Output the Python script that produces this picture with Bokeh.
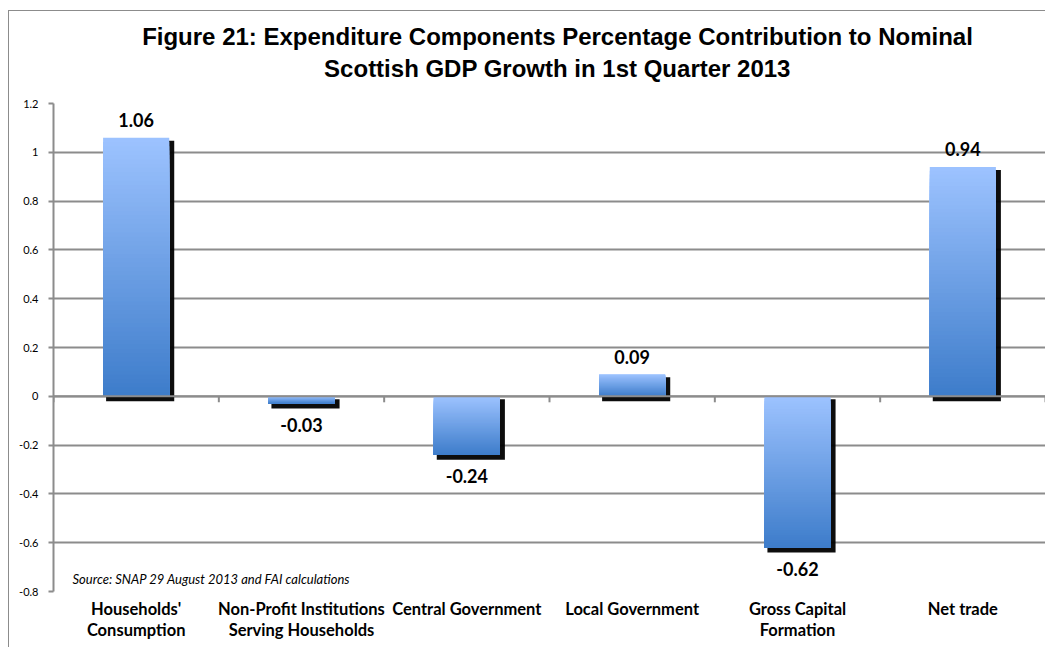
import numpy as np
from bokeh.plotting import figure
from bokeh.models import (Range1d, FixedTicker, CustomJSTickFormatter, Span, Label,
                          LinearAxis, ColumnDataSource)
from bokeh.core.properties import value
from bokeh.embed import file_html
from bokeh.resources import INLINE

# ---------------- data ----------------
categories = ["Households'\nConsumption",
              "Non-Profit Institutions\nServing Households",
              "Central Government",
              "Local Government",
              "Gross Capital\nFormation",
              "Net trade"]
values = [1.06, -0.03, -0.24, 0.09, -0.62, 0.94]
value_labels = ["1.06", "-0.03", "-0.24", "0.09", "-0.62", "0.94"]
y_ticks = [-0.8, -0.6, -0.4, -0.2, 0, 0.2, 0.4, 0.6, 0.8, 1, 1.2]
title_line1 = "Figure 21: Expenditure Components Percentage Contribution to Nominal"
title_line2 = "Scottish GDP Growth in 1st Quarter 2013"
source_note = "Source: SNAP 29 August 2013  and FAI calculations"

# ---------------- geometry / style ----------------
W, H = 1037, 637
FL, FR, FT, FB = 44, 1, 92, 57
frame_w = W - FL - FR
frame_h = H - FT - FB
n = len(categories)
ppx = frame_w / n
ppy = frame_h / (y_ticks[-1] - y_ticks[0])
BAR_W = 0.4
GRID = "#8c8c8c"
LIGHT = np.array([157, 195, 255])
DARK = np.array([61, 124, 202])

p = figure(width=W, height=H, output_backend="svg", toolbar_location=None,
           x_range=Range1d(-0.5, n - 0.5), y_range=Range1d(y_ticks[0], y_ticks[-1]),
           min_border_left=FL, min_border_right=FR, min_border_top=FT, min_border_bottom=FB)
p.margin = (10, 0, 0, 8)
p.styles = {"border-left": "1px solid #8c8c8c", "border-top": "1px solid #8c8c8c"}
p.outline_line_color = None
p.background_fill_color = "white"
p.border_fill_color = "white"

# two-line title, set as the single label of an axis above the frame
title_x = round(-0.5 + 504 / ppx, 4)
title_axis = LinearAxis(ticker=FixedTicker(ticks=[title_x]),
                        major_label_overrides={title_x: title_line1 + "\n" + title_line2})
title_axis.axis_line_color = None
title_axis.major_tick_line_color = None
title_axis.minor_tick_line_color = None
title_axis.major_label_standoff = 16
title_axis.major_label_text_font = "Liberation Sans"
title_axis.major_label_text_font_style = "bold"
title_axis.major_label_text_font_size = "24px"
title_axis.major_label_text_color = "black"
title_axis.major_label_text_line_height = 1.18
p.add_layout(title_axis, "above")

# category axis
xb = p.below[0]
xb.ticker = FixedTicker(ticks=list(range(n)))
xb.major_label_overrides = {i: c for i, c in enumerate(categories)}
xb.axis_line_color = None
xb.major_tick_line_color = None
xb.minor_tick_line_color = None
xb.major_label_standoff = 1
xb.major_label_text_font = "Lato"
xb.major_label_text_font_style = "bold"
xb.major_label_text_font_size = "16.5px"
xb.major_label_text_color = "black"
xb.major_label_text_line_height = 1.05

# value axis
p.yaxis.ticker = FixedTicker(ticks=y_ticks)
p.yaxis.formatter = CustomJSTickFormatter(code="return String(Math.round(tick*10)/10)")
p.yaxis.axis_line_color = GRID
p.yaxis.axis_line_width = 2
p.yaxis.major_tick_line_color = GRID
p.yaxis.major_tick_line_width = 2
p.yaxis.major_tick_out = 5
p.yaxis.major_tick_in = 0
p.yaxis.minor_tick_line_color = None
p.yaxis.major_label_standoff = 10
p.yaxis.major_label_text_font = "Lato"
p.yaxis.major_label_text_font_size = "11px"
p.yaxis.major_label_text_color = "black"

p.xgrid.grid_line_color = None
p.ygrid.ticker = FixedTicker(ticks=y_ticks)
p.ygrid.grid_line_color = GRID
p.ygrid.grid_line_width = 2

# shadows
xs = np.arange(n)
vals = np.array(values)
tops = np.maximum(vals, 0)
bots = np.minimum(vals, 0)
p.quad(left=xs - BAR_W / 2 + 3 / ppx, right=xs + BAR_W / 2 + 5 / ppx,
       top=tops - 3 / ppy, bottom=bots - 5 / ppy,
       fill_color="black", fill_alpha=0.95, line_color=None)

# gradient bars (light top -> dark bottom)
N = 60
L, R, T, B, C = [], [], [], [], []
for xi, tp, bt in zip(xs, tops, bots):
    h = tp - bt
    for i in range(N):
        f = (i + 0.5) / N
        col = LIGHT + (DARK - LIGHT) * f
        L.append(xi - BAR_W / 2)
        R.append(xi + BAR_W / 2)
        T.append(tp - h * i / N)
        B.append(bt)
        C.append("#%02x%02x%02x" % tuple(int(round(c)) for c in col))
p.quad(source=ColumnDataSource(dict(left=L, right=R, top=T, bottom=B, color=C)),
       left="left", right="right", top="top", bottom="bottom",
       fill_color="color", line_color=None)

# zero axis line and its ticks
p.add_layout(Span(location=0, dimension="width", line_color=GRID, line_width=2))
bx = np.arange(n + 1) - 0.5
p.segment(x0=bx, x1=bx, y0=np.zeros(n + 1), y1=np.full(n + 1, -6 / ppy),
          line_color=GRID, line_width=2)

# data labels
lab_y = np.where(vals >= 0, vals + 17.5 / ppy, vals - 21 / ppy)
p.text(x=xs, y=lab_y, text=value_labels, text_align="center", text_baseline="alphabetic",
       text_font=value("Lato"), text_font_style="bold", text_font_size="18px",
       text_color="black")

# source note
p.add_layout(Label(x=-0.5 + 19 / ppx, y=y_ticks[0] + 12.5 / ppy, text=source_note,
                   text_font="Lato", text_font_style="italic", text_font_size="13px",
                   text_color="black", text_baseline="alphabetic"))

open("out.html", "w").write(file_html(p, INLINE))
